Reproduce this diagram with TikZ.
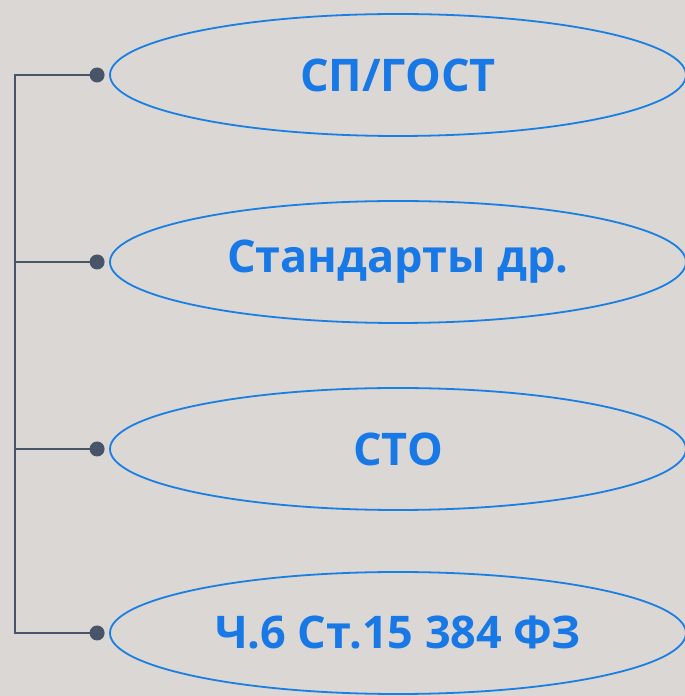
\documentclass[tikz,border=0pt]{standalone}
\usepackage{fontspec}
\setmainfont{Open Sans}
\usetikzlibrary{shapes.geometric}
\definecolor{bg}{HTML}{DBD7D4}
\definecolor{eblue}{HTML}{1A7FE2}
\definecolor{tblue}{HTML}{1778E6}
\definecolor{slate}{HTML}{485568}
\tikzset{
  oval/.style={ellipse, draw=eblue, line width=1.8pt, minimum width=576pt, minimum height=122pt, inner sep=0pt,
    text=tblue, font=\fontsize{45}{50}\selectfont\bfseries},
  wire/.style={draw=slate, line width=2.6pt},
  dotmark/.style={circle, fill=slate, minimum size=15pt, inner sep=0pt}
}
\begin{document}
\begin{tikzpicture}[x=1pt,y=1pt]
\fill[bg] (0,0) rectangle (685,696);
\useasboundingbox (0,0) rectangle (685,696);
\node[oval] (e1) at (398,621) {СП/ГОСТ};
\node[oval] (e2) at (398,434) {Стандарты др.};
\node[oval] (e3) at (398,247) {СТО};
\node[oval] (e4) at (398,63) {Ч.6 Ст.15 384 ФЗ};
\foreach \i in {1,2,3,4}{
  \coordinate (d\i) at ([xshift=-12pt]e\i.west);
  \coordinate (t\i) at (15,0 |- e\i.west);
}
\draw[wire] (d1) -- (t1) -- (t4) -- (d4);
\draw[wire] (t2) -- (d2);
\draw[wire] (t3) -- (d3);
\foreach \i in {1,2,3,4}{ \node[dotmark] (m\i) at (d\i) {}; }
\end{tikzpicture}
\end{document}
